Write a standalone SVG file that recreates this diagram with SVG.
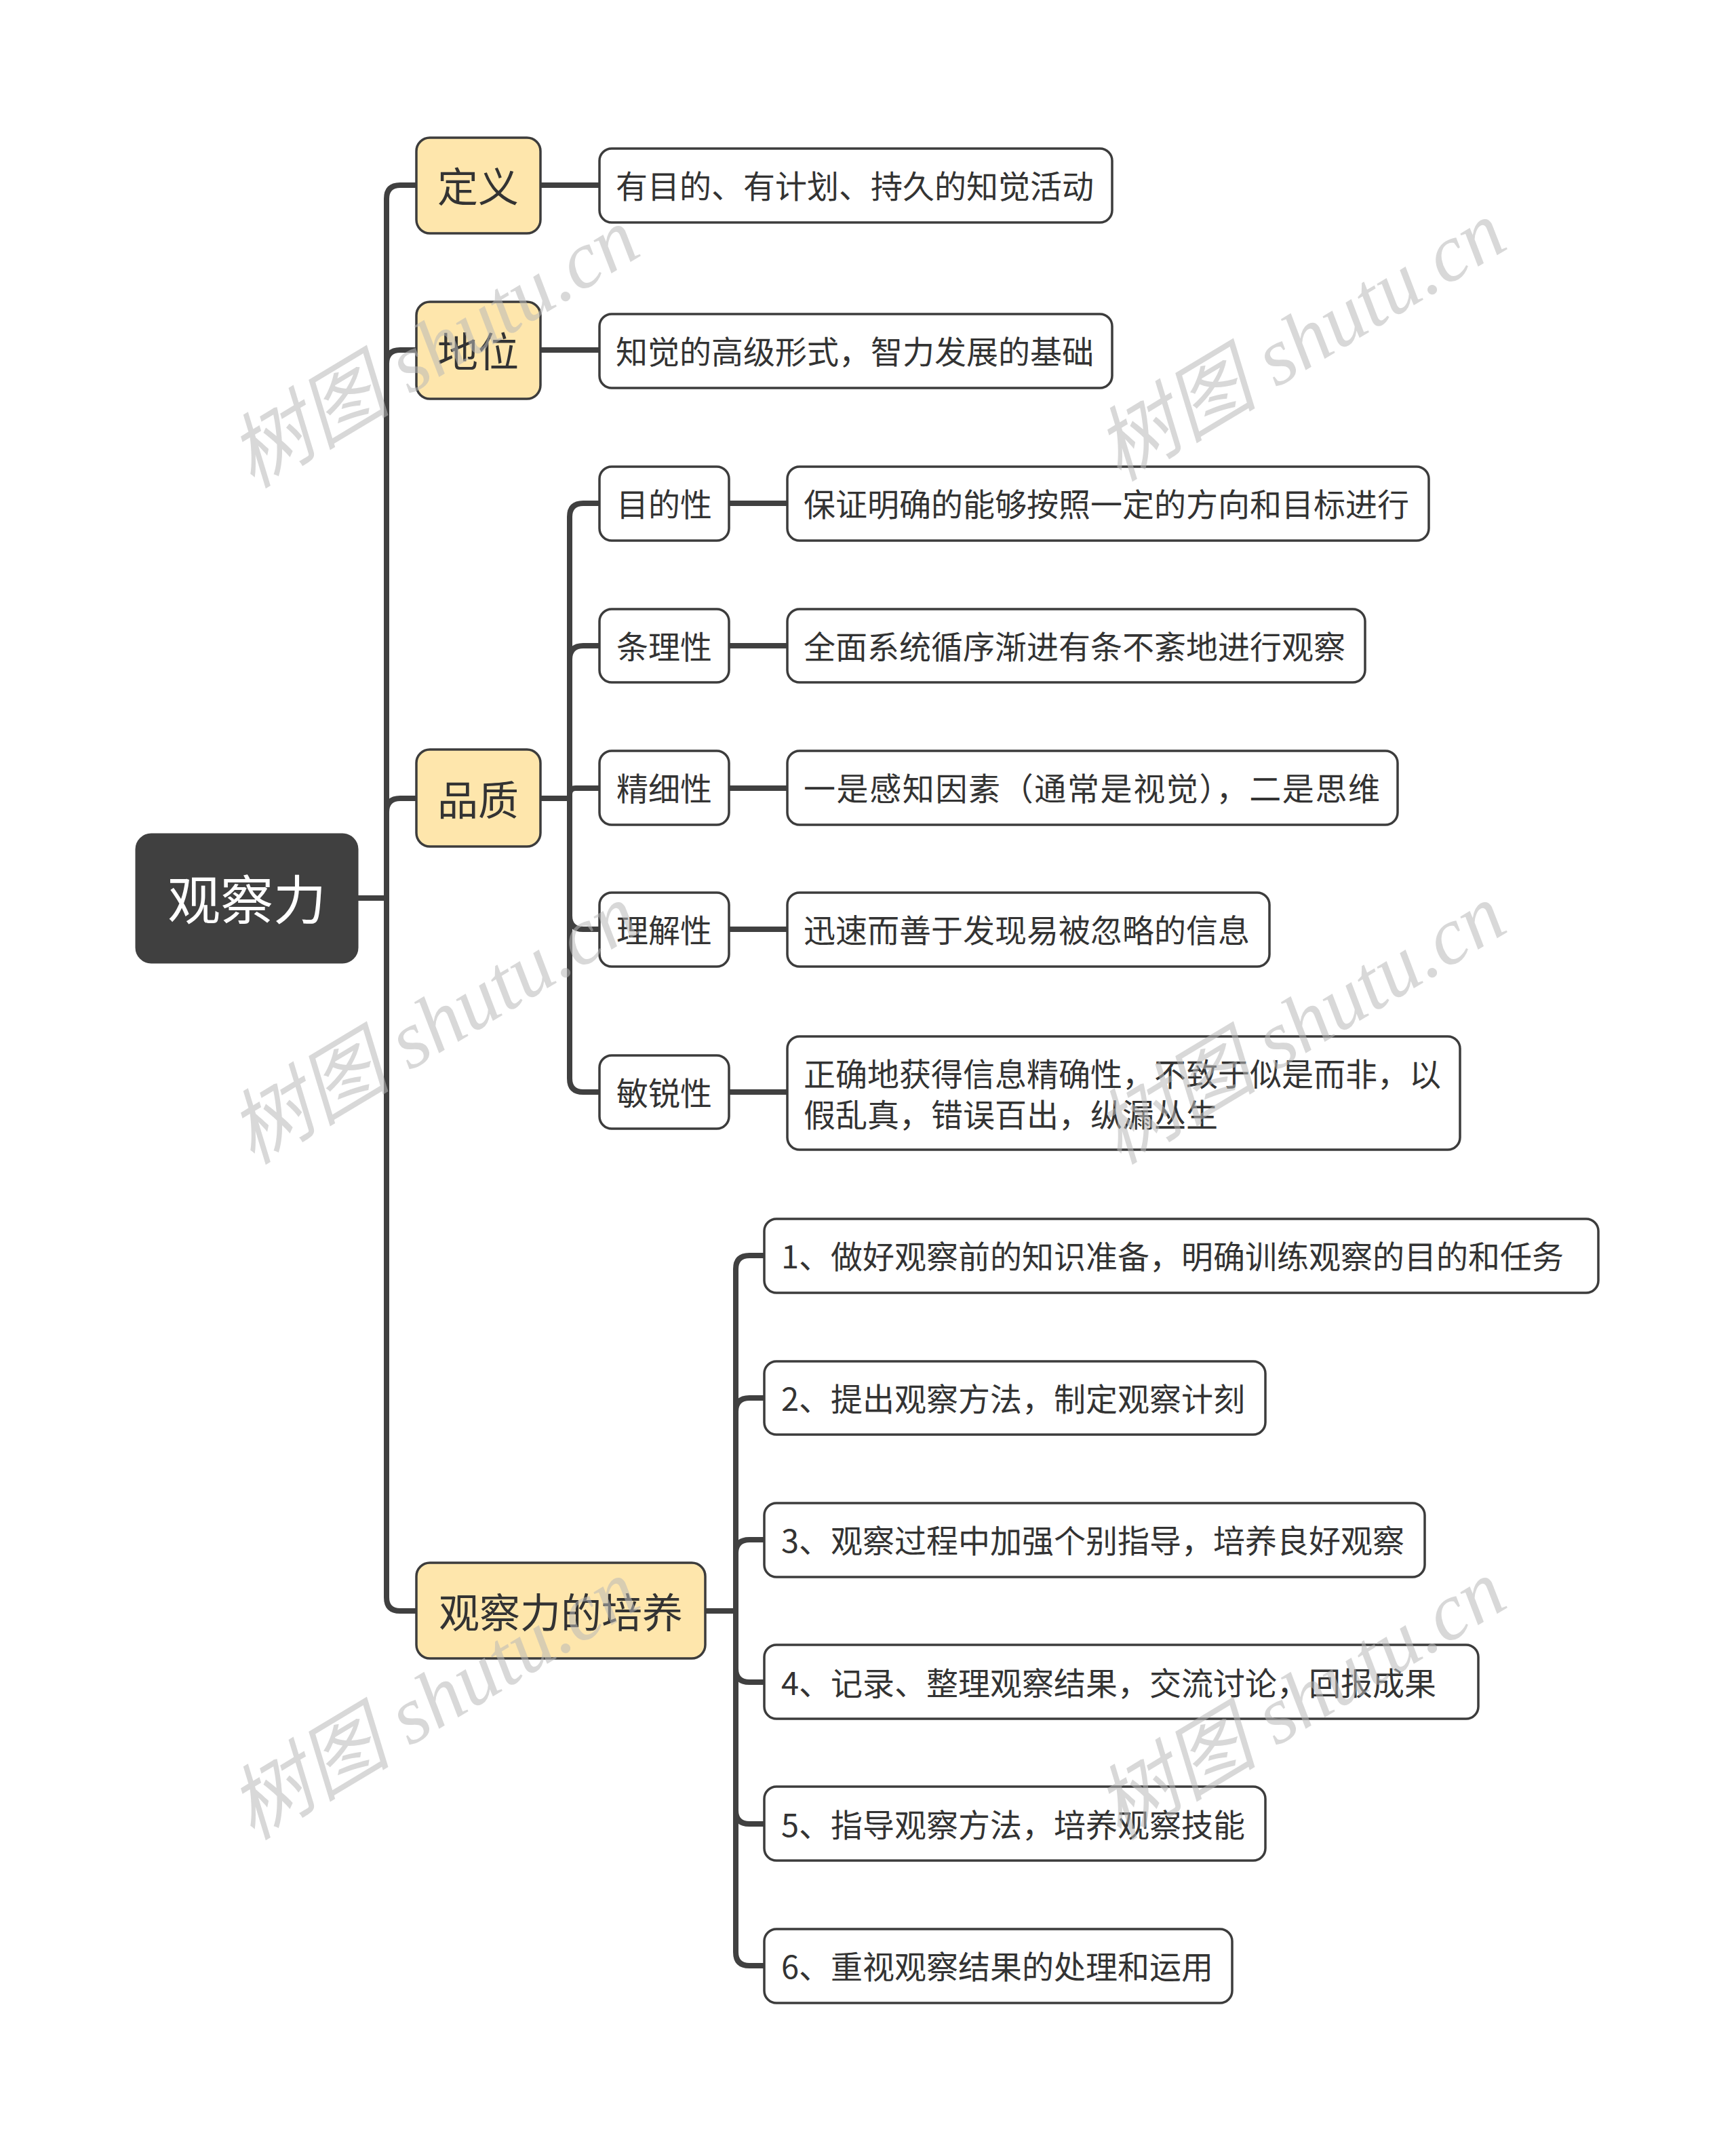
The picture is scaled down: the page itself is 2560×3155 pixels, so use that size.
<svg xmlns="http://www.w3.org/2000/svg" width="2560" height="3155" viewBox="0 0 2560 3155">
<style>
.bg{fill:#ffffff}
.root{fill:#404040;stroke:#404040;stroke-width:3}
.l1{fill:#fee6ac;stroke:#3c3c3c;stroke-width:3.5}
.box{fill:#ffffff;stroke:#3c3c3c;stroke-width:3.5}
.t{font-family:"Noto Sans CJK SC","Noto Sans",sans-serif;fill:#333333;dominant-baseline:central}
.rt{font-size:78px;fill:#ffffff}
.t1{font-size:60px}
.t2{font-size:47px}
.conn path{fill:none;stroke:#404040;stroke-width:8;stroke-linecap:butt}
.wm{font-family:"Liberation Serif","Noto Sans CJK SC",serif;font-style:italic;font-size:120px;fill:#b8b8b8;fill-opacity:0.55}
</style>
<rect class="bg" x="0" y="0" width="2560" height="3155"/>
<g class="conn" id="connectors">
<path d="M527 1324 H570 V293 Q570 273 590 273 H614"/>
<path d="M527 1324 H570 V536 Q570 516 590 516 H614"/>
<path d="M527 1324 H570 V1197 Q570 1177 590 1177 H614"/>
<path d="M527 1324 H570 V2355 Q570 2375 590 2375 H614"/>
<path d="M797 273 H884"/>
<path d="M797 516 H884"/>
<path d="M797 1177 H840 V762 Q840 742 860 742 H884"/>
<path d="M797 1177 H840 V972 Q840 952 860 952 H884"/>
<path d="M797 1177 H840 V1171 Q840 1162 849 1162 H884"/>
<path d="M797 1177 H840 V1350 Q840 1370 860 1370 H884"/>
<path d="M797 1177 H840 V1590 Q840 1610 860 1610 H884"/>
<path d="M1075 742 H1161"/>
<path d="M1075 952 H1161"/>
<path d="M1075 1162 H1161"/>
<path d="M1075 1370 H1161"/>
<path d="M1075 1610 H1161"/>
<path d="M1040 2375 H1085 V1871 Q1085 1851 1105 1851 H1127"/>
<path d="M1040 2375 H1085 V2081 Q1085 2061 1105 2061 H1127"/>
<path d="M1040 2375 H1085 V2290 Q1085 2270 1105 2270 H1127"/>
<path d="M1040 2375 H1085 V2460 Q1085 2480 1105 2480 H1127"/>
<path d="M1040 2375 H1085 V2669 Q1085 2689 1105 2689 H1127"/>
<path d="M1040 2375 H1085 V2878 Q1085 2898 1105 2898 H1127"/>
</g>
<g id="root">
<rect class="root" x="201" y="1230" width="326" height="189" rx="22"/>
<text class="t rt" x="364" y="1322" text-anchor="middle">观察力</text>
</g>
<g id="n-dingyi">
<rect class="l1" x="614" y="203" width="183" height="141" rx="20"/>
<text class="t t1" x="705" y="271" text-anchor="middle">定义</text>
</g>
<g id="n-diwei">
<rect class="l1" x="614" y="445" width="183" height="143" rx="20"/>
<text class="t t1" x="705" y="514" text-anchor="middle">地位</text>
</g>
<g id="n-pinzhi">
<rect class="l1" x="614" y="1105" width="183" height="143" rx="20"/>
<text class="t t1" x="705" y="1175" text-anchor="middle">品质</text>
</g>
<g id="n-peiyang">
<rect class="l1" x="614" y="2304" width="426" height="141" rx="20"/>
<text class="t t1" x="827" y="2373" text-anchor="middle">观察力的培养</text>
</g>
<g id="n-dingyi-1">
<rect class="box" x="884" y="219" width="756" height="109" rx="18"/>
<text class="t t2" x="908" y="271">有目的、有计划、持久的知觉活动</text>
</g>
<g id="n-diwei-1">
<rect class="box" x="884" y="463" width="756" height="109" rx="18"/>
<text class="t t2" x="908" y="515">知觉的高级形式，智力发展的基础</text>
</g>
<g id="n-mudi">
<rect class="box" x="884" y="688" width="191" height="109" rx="18"/>
<text class="t t2" x="909" y="740">目的性</text>
</g>
<g id="n-tiaoli">
<rect class="box" x="884" y="898" width="191" height="108" rx="18"/>
<text class="t t2" x="909" y="950">条理性</text>
</g>
<g id="n-jingxi">
<rect class="box" x="884" y="1107" width="191" height="109" rx="18"/>
<text class="t t2" x="909" y="1159">精细性</text>
</g>
<g id="n-lijie">
<rect class="box" x="884" y="1316" width="191" height="109" rx="18"/>
<text class="t t2" x="909" y="1368">理解性</text>
</g>
<g id="n-minrui">
<rect class="box" x="884" y="1556" width="191" height="108" rx="18"/>
<text class="t t2" x="909" y="1608">敏锐性</text>
</g>
<g id="n-mudi-1">
<rect class="box" x="1161" y="688" width="946" height="109" rx="18"/>
<text class="t t2" x="1185" y="740">保证明确的能够按照一定的方向和目标进行</text>
</g>
<g id="n-tiaoli-1">
<rect class="box" x="1161" y="898" width="852" height="108" rx="18"/>
<text class="t t2" x="1185" y="950">全面系统循序渐进有条不紊地进行观察</text>
</g>
<g id="n-jingxi-1">
<rect class="box" x="1161" y="1107" width="900" height="109" rx="18"/>
<text class="t t2" x="1185" y="1159" textLength="850" lengthAdjust="spacing">一是感知因素（通常是视觉），二是思维</text>
</g>
<g id="n-lijie-1">
<rect class="box" x="1161" y="1316" width="711" height="109" rx="18"/>
<text class="t t2" x="1185" y="1368">迅速而善于发现易被忽略的信息</text>
</g>
<g id="n-minrui-1">
<rect class="box" x="1161" y="1528" width="992" height="167" rx="18"/>
<text class="t t2" x="1185" y="1580">正确地获得信息精确性，不致于似是而非，以</text>
<text class="t t2" x="1185" y="1640">假乱真，错误百出，纵漏丛生</text>
</g>
<g id="n-p1">
<rect class="box" x="1127" y="1797" width="1230" height="109" rx="18"/>
<text class="t t2" x="1152" y="1849">1、做好观察前的知识准备，明确训练观察的目的和任务</text>
</g>
<g id="n-p2">
<rect class="box" x="1127" y="2007" width="739" height="108" rx="18"/>
<text class="t t2" x="1152" y="2059">2、提出观察方法，制定观察计刻</text>
</g>
<g id="n-p3">
<rect class="box" x="1127" y="2216" width="974" height="109" rx="18"/>
<text class="t t2" x="1152" y="2268">3、观察过程中加强个别指导，培养良好观察</text>
</g>
<g id="n-p4">
<rect class="box" x="1127" y="2425" width="1053" height="109" rx="18"/>
<text class="t t2" x="1152" y="2478">4、记录、整理观察结果，交流讨论，回报成果</text>
</g>
<g id="n-p5">
<rect class="box" x="1127" y="2634" width="739" height="109" rx="18"/>
<text class="t t2" x="1152" y="2687">5、指导观察方法，培养观察技能</text>
</g>
<g id="n-p6">
<rect class="box" x="1127" y="2844" width="690" height="109" rx="18"/>
<text class="t t2" x="1152" y="2896">6、重视观察结果的处理和运用</text>
</g>
<g id="watermarks">
<text class="wm" transform="translate(640 513) rotate(-31)" text-anchor="middle" dominant-baseline="central">树图 shutu.cn</text>
<text class="wm" transform="translate(1918 503) rotate(-31)" text-anchor="middle" dominant-baseline="central">树图 shutu.cn</text>
<text class="wm" transform="translate(640 1510) rotate(-31)" text-anchor="middle" dominant-baseline="central">树图 shutu.cn</text>
<text class="wm" transform="translate(1918 1510) rotate(-31)" text-anchor="middle" dominant-baseline="central">树图 shutu.cn</text>
<text class="wm" transform="translate(640 2506) rotate(-31)" text-anchor="middle" dominant-baseline="central">树图 shutu.cn</text>
<text class="wm" transform="translate(1918 2506) rotate(-31)" text-anchor="middle" dominant-baseline="central">树图 shutu.cn</text>
</g>
</svg>
